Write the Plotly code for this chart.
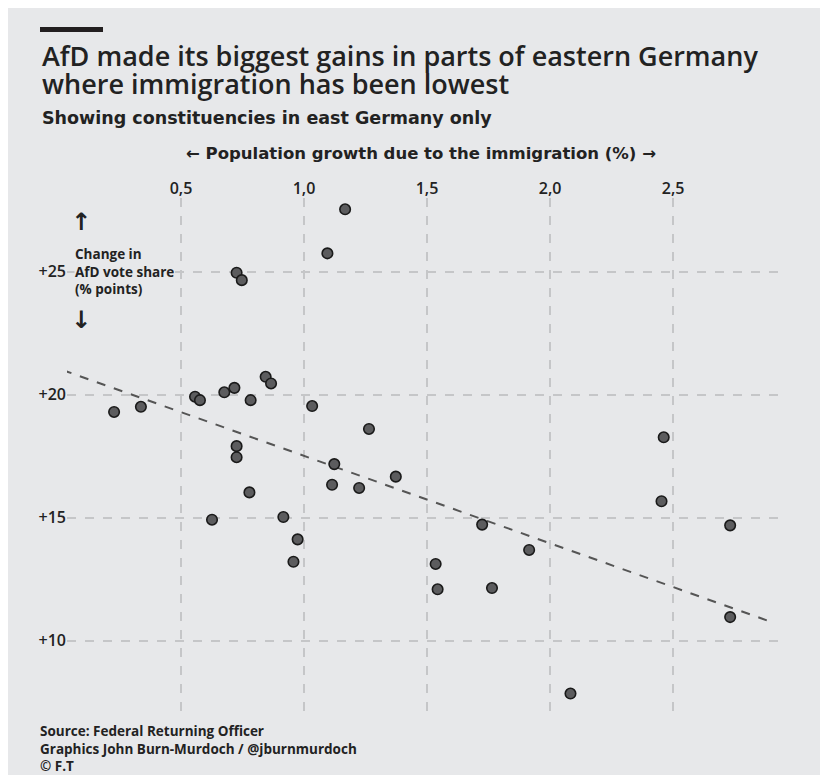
import plotly.graph_objects as go

# ---- data ----
pop_growth = [0.408, 0.726, 0.747, 0.005, 0.228, 0.337, 0.557, 0.577, 0.676, 0.717,
              0.783, 0.844, 0.866, 0.726, 0.726, 1.167, 1.095, 1.033, 1.264, 1.123,
              0.778, 0.626, 0.916, 0.974, 0.957, 1.114, 1.224, 1.373, 1.724, 1.915,
              1.535, 1.543, 1.764, 2.083, 2.462, 2.453, 2.732, 2.732]
afd_change = [25.61, 24.96, 24.66, 21.60, 19.30, 19.51, 19.92, 19.78, 20.10, 20.28,
              19.78, 20.73, 20.46, 17.91, 17.46, 27.54, 25.75, 19.54, 18.61, 17.18,
              16.03, 14.92, 15.03, 14.12, 13.21, 16.34, 16.21, 16.67, 14.72, 13.69,
              13.12, 12.09, 12.14, 7.85, 18.27, 15.67, 14.69, 10.96]
trend_x = [0.02, 2.90]
trend_y = [21.0, 10.76]
x_ticks = [0.5, 1.0, 1.5, 2.0, 2.5]
y_ticks = [10, 15, 20, 25]
y_tick_labels = ["+10", "+15", "+20", "+25"]
footer_lines = ["Source: Federal Returning Officer",
                "Graphics John Burn-Murdoch / @jburnmurdoch",
                "\u00a9 F.T"]

W, H = 828, 775
OFF = 8  # page body margin
# plot area in screen pixels
L, R, T, B = 67, 786, 198, 713
BG = "#e7e8ea"
FONT = "Open Sans"
WIDE = "DejaVu Sans"
TXT = "#222222"


def px(x):
    return (x - L) / (R - L)


def py(y):
    return (B - y) / (B - T)


fig = go.Figure()
fig.add_trace(go.Scatter(x=trend_x, y=trend_y, mode="lines",
                         line=dict(color="#555555", width=2, dash="dash"),
                         hoverinfo="skip", showlegend=False, cliponaxis=False))
fig.add_trace(go.Scatter(x=pop_growth, y=afd_change, mode="markers",
                         marker=dict(size=10.5, color="#5c5c5e",
                                     line=dict(color="#1a1a1a", width=1.6)),
                         showlegend=False, cliponaxis=False))

annotations = [
    dict(text="AfD made its biggest gains in parts of eastern Germany", x=px(40), y=py(55),
         font=dict(size=27, color=TXT, family=FONT, weight=600), xanchor="left", yanchor="middle"),
    dict(text="where immigration has been lowest", x=px(40), y=py(83),
         font=dict(size=27, color=TXT, family=FONT, weight=600), xanchor="left", yanchor="middle"),
    dict(text="Showing constituencies in east Germany only", x=px(40), y=py(118),
         font=dict(size=17.5, color=TXT, family=WIDE, weight=700), xanchor="left", yanchor="middle"),
    dict(text="\u2190 Population growth due to the immigration (%) \u2192", x=px(421), y=py(153),
         font=dict(size=16.5, color=TXT, family=WIDE, weight=700), xanchor="center", yanchor="middle"),
    dict(text="\u2191", x=px(81), y=py(222),
         font=dict(size=24, color=TXT, family=WIDE, weight=700), xanchor="center", yanchor="middle"),
    dict(text="\u2193", x=px(81), y=py(320),
         font=dict(size=24, color=TXT, family=WIDE, weight=700), xanchor="center", yanchor="middle"),
    dict(text="Change in<br>AfD vote share<br>(% points)", x=px(74), y=py(271.5),
         font=dict(size=13.5, color=TXT, family=FONT, weight=700), xanchor="left", yanchor="middle",
         align="left", bgcolor=BG, borderpad=0),
]
for line, ypix in zip(footer_lines, [731, 748.5, 766]):
    annotations.append(dict(text=line, x=px(39), y=py(ypix),
                            font=dict(size=13.5, color=TXT, family=FONT, weight=700),
                            xanchor="left", yanchor="middle", align="left", borderpad=0))
for a in annotations:
    a.update(xref="paper", yref="paper", showarrow=False)

shapes = [
    dict(type="rect", xref="paper", yref="paper", x0=px(40), x1=px(103), y0=py(32), y1=py(27),
         fillcolor="#231f20", line=dict(width=0), layer="above"),
]

fig.update_layout(
    width=W, height=H,
    margin=dict(l=L - OFF, r=W - (R - OFF), t=T - OFF, b=H - (B - OFF), pad=0),
    paper_bgcolor=BG, plot_bgcolor=BG,
    separators=",.",
    font=dict(family=FONT, color=TXT),
    annotations=annotations, shapes=shapes,
    xaxis=dict(range=[0.0366, 2.959], side="top", tickvals=x_ticks, tickformat=".1f",
               showgrid=True, gridcolor="#c5c6c8", griddash="dash", gridwidth=1.5,
               zeroline=False, showline=False, ticks="",
               tickfont=dict(size=16, color=TXT, family=FONT, weight=600)),
    yaxis=dict(range=[7.06, 28.0], tickvals=y_ticks, ticktext=y_tick_labels,
               showgrid=True, gridcolor="#c5c6c8", griddash="dash", gridwidth=1.5,
               zeroline=False, showline=False, ticks="",
               tickfont=dict(size=16, color=TXT, family=FONT, weight=600)),
)

fig.write_html("out.html")
